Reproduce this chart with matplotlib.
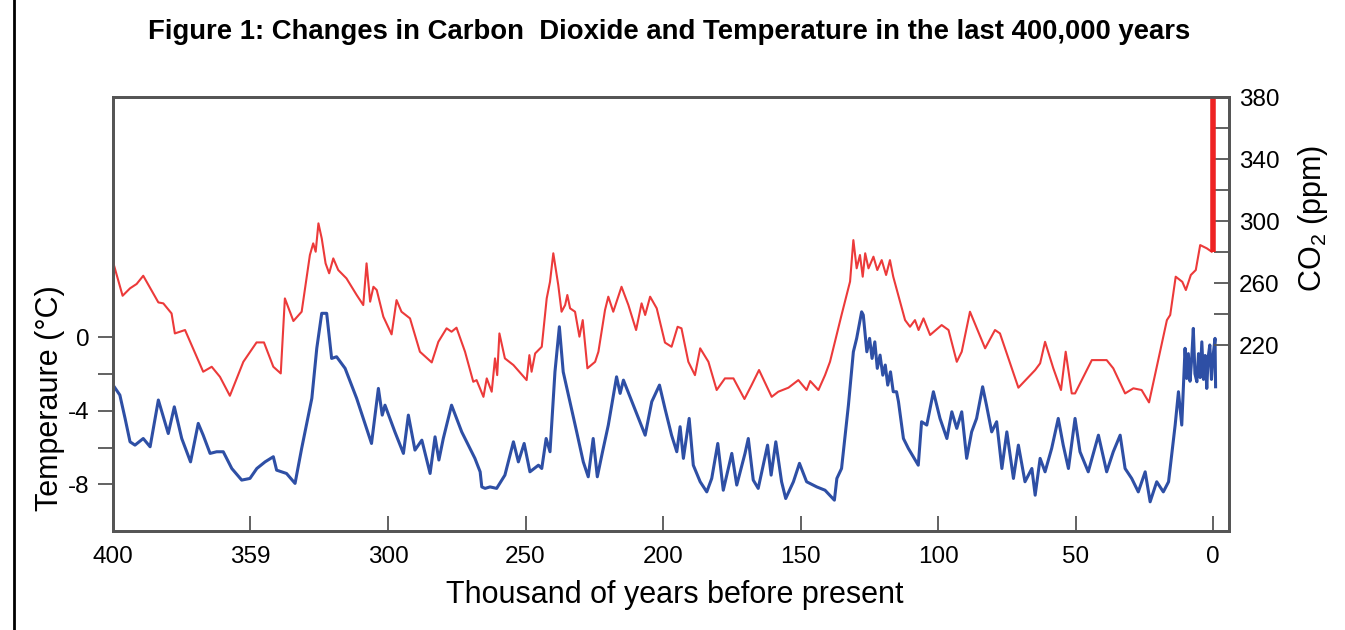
import matplotlib
matplotlib.use("Agg")
import matplotlib.pyplot as plt

plt.rcParams['font.family'] = ['Liberation Sans', 'DejaVu Sans']
plt.rcParams['mathtext.fontset'] = 'custom'
plt.rcParams['mathtext.rm'] = 'Liberation Sans'
plt.rcParams['axes.unicode_minus'] = False

# CO2 (ppm), thousand years before present
co2_age = [400, 396.5, 393.8, 391.4, 389.0, 383.5, 381.7, 378.7, 377.5, 373.8,
           367.2, 364.1, 361.1, 357.5, 352.6, 347.8, 345.1, 341.7, 339.0, 337.5,
           334.4, 331.4, 328.4, 327.2, 326.3, 325.3, 324.1, 322.7, 321.4, 319.9,
           318.1, 315.1, 311.4, 309.0, 307.8, 306.5, 305.3, 304.1, 301.7, 298.7,
           296.9, 295.1, 292.0, 288.4, 284.1, 281.7, 278.7, 276.9, 275.1, 272.0,
           269.0, 267.8, 265.3, 264.1, 262.3, 261.1, 260.3, 259.5, 257.5, 254.4,
           249.6, 248.6, 247.8, 246.5, 244.1, 242.3, 241.1, 239.9, 238.1, 236.9,
           235.6, 234.8, 233.8, 232.0, 230.4, 229.2, 227.5, 224.7, 223.5, 221.1,
           219.9, 218.1, 215.1, 212.6, 209.8, 207.8, 206.5, 204.7, 202.3, 199.3,
           196.9, 194.7, 193.3, 190.8, 188.4, 186.5, 183.5, 180.5, 177.5, 174.4,
           170.4, 167.8, 165.1, 160.5, 158.1, 154.4, 150.8, 147.8, 146.5, 143.5,
           141.1, 139.3, 135.1, 132.0, 130.8, 129.6, 128.4, 127.4, 126.5, 125.3,
           123.5, 122.1, 120.5, 118.9, 117.5, 116.3, 112.0, 110.2, 108.4, 107.1,
           105.3, 102.9, 98.7, 96.2, 93.2, 91.4, 88.4, 82.9, 79.3, 77.5,
           70.8, 64.7, 62.9, 61.1, 58.1, 55.3, 53.6, 51.4, 50.2, 44.1,
           38.7, 36.3, 32.0, 29.0, 26.0, 23.3, 16.8, 15.6, 13.6, 11.2,
           9.9, 8.1, 6.3, 4.7, 2.3, 0.5]
co2_ppm = [273.7, 251.8, 256.6, 259.4, 264.7, 247.5, 246.9, 240.4, 227.5, 229.7,
           202.8, 206.0, 199.5, 187.3, 209.2, 221.7, 221.7, 206.0, 201.7, 250.1,
           235.5, 241.5, 278.1, 285.6, 280.2, 298.5, 288.8, 272.7, 266.3, 275.9,
           268.4, 263.0, 252.3, 245.8, 272.7, 248.0, 257.6, 255.5, 238.3, 226.9,
           249.0, 241.5, 237.2, 215.7, 208.8, 222.1, 230.8, 228.6, 231.2, 215.7,
           196.3, 197.4, 186.6, 198.5, 189.9, 211.4, 200.6, 227.5, 211.4, 207.1,
           197.4, 213.5, 202.8, 214.6, 218.9, 250.1, 260.8, 279.2, 258.7, 241.5,
           245.8, 252.3, 243.7, 241.5, 225.4, 236.1, 205.0, 209.2, 215.7, 242.6,
           251.2, 241.5, 257.6, 245.8, 229.7, 246.9, 239.4, 251.2, 243.7, 221.6,
           218.9, 231.8, 230.8, 209.2, 200.6, 217.9, 209.2, 191.0, 198.5, 198.5,
           185.2, 194.2, 203.9, 186.6, 189.9, 192.5, 197.4, 191.0, 196.8, 191.0,
           200.6, 209.2, 239.4, 261.0, 287.7, 269.5, 278.1, 264.1, 279.2, 269.5,
           277.0, 268.4, 274.8, 265.2, 274.8, 264.1, 236.1, 231.8, 236.1, 229.7,
           237.2, 226.5, 232.9, 229.7, 209.2, 215.7, 241.5, 217.9, 229.7, 227.5,
           192.5, 203.9, 208.2, 222.1, 205.0, 191.0, 215.7, 188.8, 188.8, 210.3,
           210.3, 205.0, 188.8, 192.1, 191.0, 183.0, 236.1, 239.4, 264.1, 260.8,
           255.5, 265.2, 268.4, 284.5, 282.4, 280.2]

# modern CO2 rise
modern_age = [0, 0]
modern_ppm = [280, 380]

# temperature anomaly (deg C)
temp_age = [400, 397.5, 395.6, 393.8, 392.0, 389.0, 386.5, 383.5, 379.9, 377.7,
            375.0, 371.8, 369.0, 367.2, 364.7, 362.3, 359.9, 356.8, 353.2, 350.2,
            347.7, 344.7, 341.7, 340.5, 336.9, 333.8, 331.4, 327.7, 325.9, 324.1,
            322.3, 320.5, 318.7, 315.6, 311.4, 306.0, 303.5, 302.1, 301.1, 297.5,
            294.4, 292.6, 290.2, 287.7, 284.7, 282.9, 281.5, 279.9, 276.9, 273.2,
            270.8, 268.4, 266.5, 265.9, 264.7, 262.9, 260.5, 257.5, 254.4, 252.6,
            250.5, 248.4, 245.3, 244.1, 242.5, 241.1, 239.3, 237.7, 236.3, 234.4,
            231.4, 229.0, 227.2, 225.4, 223.9, 222.0, 219.9, 216.9, 215.6, 214.4,
            210.8, 206.5, 204.1, 201.3, 199.3, 196.9, 195.0, 193.8, 192.6, 190.5,
            189.0, 186.5, 184.1, 182.3, 180.1, 178.1, 175.0, 173.2, 170.2, 169.0,
            167.2, 165.4, 162.0, 160.7, 159.0, 156.9, 155.4, 152.6, 150.4, 147.8,
            144.1, 141.1, 137.7, 136.8, 135.1, 132.6, 130.8, 129.6, 127.8, 127.2,
            125.9, 124.9, 124.0, 123.0, 122.1, 121.1, 120.1, 119.2, 118.3, 117.3,
            116.3, 115.1, 114.4, 112.6, 110.8, 109.0,
            107.2, 106.0, 104.1, 101.7, 99.3, 96.8, 95.0, 93.2, 91.4, 89.6,
            87.8, 86.0, 83.8, 82.4, 80.5, 78.7, 76.8, 75.0, 72.6, 70.8,
            68.4, 65.9, 64.7, 62.9, 61.1, 58.7, 56.3, 54.5, 52.6, 50.2,
            48.4, 45.4, 41.7, 38.7, 36.3, 33.8, 32.0, 29.6, 27.2, 24.7,
            22.9, 20.5, 18.1, 16.2, 13.8, 12.6, 11.4, 10.2, 9.6, 9.0,
            8.4, 7.8, 7.2, 6.6, 5.9, 5.3, 4.7, 4.1, 3.5, 2.9,
            2.3, 1.8, 1.2, 0.6, 0.0, -0.7, -0.9]
temp_c = [-2.6, -3.15, -4.42, -5.69, -5.87, -5.51, -5.96, -3.42, -5.24, -3.79,
          -5.51, -6.78, -4.69, -5.33, -6.32, -6.23, -6.23, -7.14, -7.77, -7.68,
          -7.14, -6.78, -6.5, -7.23, -7.41, -7.95, -6.05, -3.33, -0.61, 1.29,
          1.29, -1.16, -1.07, -1.7, -3.33, -5.78, -2.79, -4.24, -3.7, -5.15,
          -6.32, -4.24, -6.14, -5.6, -7.41, -5.42, -6.68, -5.51, -3.7, -5.15,
          -5.87, -6.59, -7.32, -8.14, -8.22, -8.14, -8.22, -7.5, -5.69, -6.78,
          -5.78, -7.32, -6.96, -7.14, -5.51, -6.23, -1.89, 0.56, -1.89, -3.15,
          -5.15, -6.78, -7.59, -5.51, -7.59, -6.23, -4.78, -2.16, -3.06, -2.34,
          -3.7, -5.33, -3.51, -2.61, -3.88, -5.33, -6.23, -4.87, -6.59, -4.42,
          -6.96, -7.86, -8.41, -7.68, -5.78, -8.32, -6.32, -8.04, -6.32, -5.51,
          -7.77, -8.22, -5.87, -7.5, -5.69, -7.86, -8.77, -7.86, -6.86, -7.86,
          -8.14, -8.32, -8.86, -7.68, -7.14, -3.7, -0.8, -0.07, 1.37, 1.2,
          -0.8, -0.07, -1.16, -0.26, -1.7, -0.98, -2.07, -1.52, -2.61, -1.89,
          -2.97, -2.97, -3.51, -5.51, -6.05, -6.5,
          -6.96, -4.6, -4.78, -2.97, -4.42, -5.51, -4.06, -4.96, -4.06, -6.59,
          -5.15, -4.42, -2.7, -3.7, -5.15, -4.6, -7.14, -5.15, -7.68, -5.87,
          -7.86, -7.14, -8.59, -6.59, -7.32, -6.05, -4.42, -5.87, -7.14, -4.42,
          -6.23, -7.32, -5.33, -7.32, -6.23, -5.33, -7.14, -7.68, -8.41, -7.32,
          -8.95, -7.86, -8.41, -7.86, -4.78, -2.97, -4.78, -0.61, -2.25, -0.9,
          -2.4, -1.2, 0.47, -2.0, -2.43, -0.9, -2.2, -0.26, -2.3, -1.0,
          -2.79, -1.1, -0.43, -2.3, -1.0, -0.07, -2.7]

xtick_pos = [400, 350, 300, 250, 200, 150, 100, 50, 0]
xtick_labels = ['400', '359', '300', '250', '200', '150', '100', '50', '0']
temp_ticks = [0, -4, -8]
temp_minor = [-2, -6]
co2_ticks = [220, 260, 300, 340, 380]
co2_minor = [240, 280, 320, 360]

frame_col = '#555555'

fig = plt.figure(figsize=(13.45, 6.3), dpi=100)
ax = fig.add_axes([0.084, 0.157, 0.8298, 0.689])
ax.plot(temp_age, temp_c, color='#2e4fa5', lw=2.2)
ax.set_xlim(400, -5.8)
ax.set_ylim(-10.54, 13.04)

ax2 = ax.twinx()
ax2.plot(co2_age, co2_ppm, color='#ec3a3a', lw=1.5)
ax2.plot(modern_age, modern_ppm, color='#ee2222', lw=4, solid_capstyle='butt')
ax2.set_ylim(100, 380)

ax.set_xticks(xtick_pos)
ax.set_xticklabels(xtick_labels)
ax.set_yticks(temp_ticks)
ax.set_yticks(temp_minor, minor=True)
ax2.set_yticks(co2_ticks)
ax2.set_yticks(co2_minor, minor=True)

ax.tick_params(axis='x', direction='in', length=11, width=1.3, color=frame_col,
               pad=11, labelsize=17.5)
ax.tick_params(axis='y', which='both', direction='out', length=11, width=1.3,
               color=frame_col, pad=6, labelsize=17.5)
ax2.tick_params(axis='y', which='both', direction='in', length=11, width=1.3,
                color=frame_col, pad=7, labelsize=17.5)

for a in (ax, ax2):
    for s in a.spines.values():
        s.set_color(frame_col)
        s.set_linewidth(2)

fig.text(0.4974, 0.949, 'Figure 1: Changes in Carbon  Dioxide and Temperature in the last 400,000 years',
         ha='center', va='center', fontsize=19.8, fontweight='bold')
fig.text(0.502, 0.0556, 'Thousand of years before present', ha='center', va='center', fontsize=22)
fig.text(0.0372, 1 - 398 / 630, 'Temperaure (°C)', rotation=90, ha='center', va='center', fontsize=22)
fig.text(0.976, 1 - 218 / 630, 'CO$_2$ (ppm)', rotation=90, ha='center', va='center', fontsize=22)

# left edge of the figure frame
fig.add_artist(plt.Line2D([0.0104, 0.0104], [0, 1], color='black', lw=2))

fig.savefig('out.png', dpi=100)
